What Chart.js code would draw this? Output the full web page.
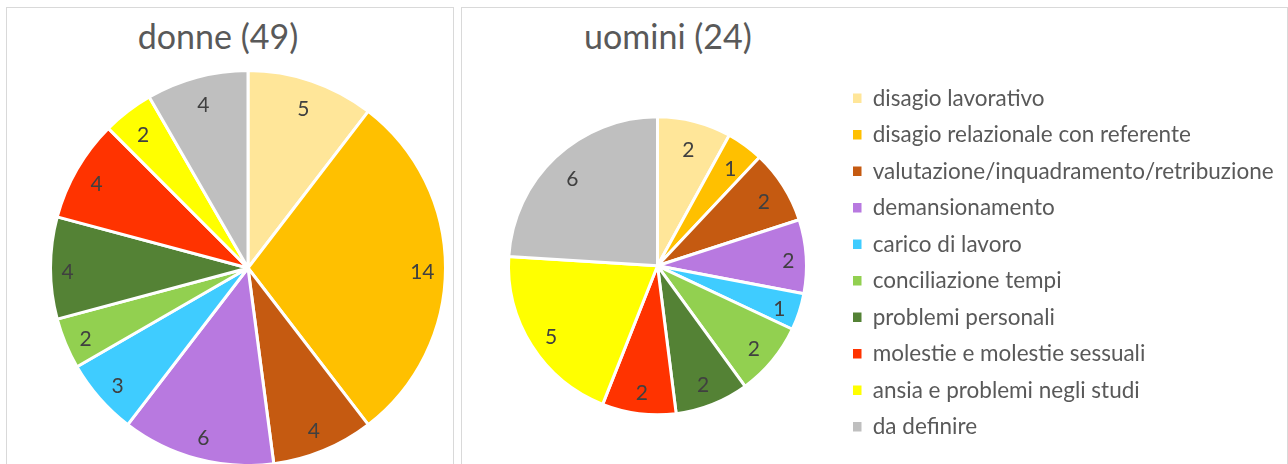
<!DOCTYPE html>
<html>
<head>
<meta charset="utf-8">
<script src="https://cdn.jsdelivr.net/npm/chart.js@4"></script>
<style>
  html, body { margin: 0; padding: 0; background: #fff; overflow: hidden; }
  body { width: 1288px; height: 464px; position: relative; font-family: Lato, sans-serif; }
  .panel { position: absolute; border: 1px solid #d9d9d9; box-sizing: border-box; }
  .title { position: absolute; width: 300px; text-align: center; color: #595959;
           font-size: 34px; line-height: 1.2; white-space: nowrap; }
  canvas { position: absolute; }
</style>
</head>
<body>
<div class="panel" style="left:6px; top:7px; width:448px; height:480px;"></div>
<div class="panel" style="left:461px; top:7px; width:827px; height:480px;"></div>
<div class="title" style="left:68px; top:16px;">donne (49)</div>
<div class="title" style="left:518px; top:16px;">uomini (24)</div>
<canvas id="donneChart" width="460" height="464" style="left:0; top:0;"></canvas>
<canvas id="uominiChart" width="827" height="464" style="left:461px; top:0;"></canvas>

<script>
// -----Data
var categories = [
  'disagio lavorativo',
  'disagio relazionale con referente',
  'valutazione/inquadramento/retribuzione',
  'demansionamento',
  'carico di lavoro',
  'conciliazione tempi',
  'problemi personali',
  'molestie e molestie sessuali',
  'ansia e problemi negli studi',
  'da definire'
]
var donneValues = [5, 14, 4, 6, 3, 2, 4, 4, 2, 4]
var uominiValues = [2, 1, 2, 2, 1, 2, 2, 2, 5, 6]
var sliceColors = ['#FFE699', '#FFC000', '#C55A11', '#B879E0', '#3FCCFF',
                   '#92D050', '#548235', '#FF3300', '#FFFF00', '#BFBFBF']

// -----Value labels inside the slices (like Excel "inside end")
var sliceLabels = {
  id: 'sliceLabels',
  afterDatasetsDraw: function(chart) {
    var ctx = chart.ctx
    var meta = chart.getDatasetMeta(0)
    var values = chart.data.datasets[0].data
    ctx.save()
    ctx.font = '21px Lato'
    ctx.fillStyle = '#404040'
    ctx.textAlign = 'center'
    ctx.textBaseline = 'middle'
    meta.data.forEach(function(arc, i) {
      var p = arc.getProps(['x', 'y', 'startAngle', 'endAngle', 'outerRadius'], true)
      var mid = (p.startAngle + p.endAngle) / 2
      var cos = Math.cos(mid)
      var sin = Math.sin(mid)
      var text = String(values[i])
      var hw = ctx.measureText(text).width / 2
      var dist = p.outerRadius - (11 + hw * Math.abs(cos) + 13 * Math.abs(sin))
      ctx.fillText(text, p.x + cos * dist, p.y + sin * dist + 4)
    })
    ctx.restore()
  }
}

// legend box is squeezed to half the width by the layout, let it use the whole canvas
var wideLegend = {
  id: 'wideLegend',
  afterLayout: function(chart) {
    chart.legend.right = chart.width
    chart.legend.width = chart.legend.right - chart.legend.left
  }
}

function legendLabels(chart) {
  var items = Chart.overrides.pie.plugins.legend.labels.generateLabels(chart)
  items.forEach(function(item) {
    item.lineWidth = 0
    item.strokeStyle = 'rgba(0,0,0,0)'
  })
  return items
}

function pieDataset(values, radius) {
  return {
    data: values,
    backgroundColor: sliceColors,
    borderColor: '#ffffff',
    borderWidth: 3,
    hoverOffset: 0,
    radius: radius
  }
}

// -----donne
new Chart(document.getElementById('donneChart'), {
  type: 'pie',
  data: { labels: categories, datasets: [pieDataset(donneValues, 197.5)] },
  options: {
    responsive: false,
    animation: false,
    layout: { padding: { left: 52, right: 16, top: 72, bottom: 0 } },
    plugins: { legend: { display: false }, tooltip: { enabled: false } }
  },
  plugins: [sliceLabels]
})

// -----uomini
new Chart(document.getElementById('uominiChart'), {
  type: 'pie',
  data: { labels: categories, datasets: [pieDataset(uominiValues, 149)] },
  options: {
    responsive: false,
    animation: false,
    layout: { padding: { left: 15, right: 86, top: 73, bottom: 5.4 } },
    plugins: {
      tooltip: { enabled: false },
      legend: {
        position: 'right',
        align: 'start',
        labels: {
          boxWidth: 8.5,
          boxHeight: 9.5,
          padding: 14,
          color: '#595959',
          font: { family: 'Lato', size: 22.5 },
          generateLabels: legendLabels
        }
      }
    }
  },
  plugins: [sliceLabels, wideLegend]
})
</script>
</body>
</html>
